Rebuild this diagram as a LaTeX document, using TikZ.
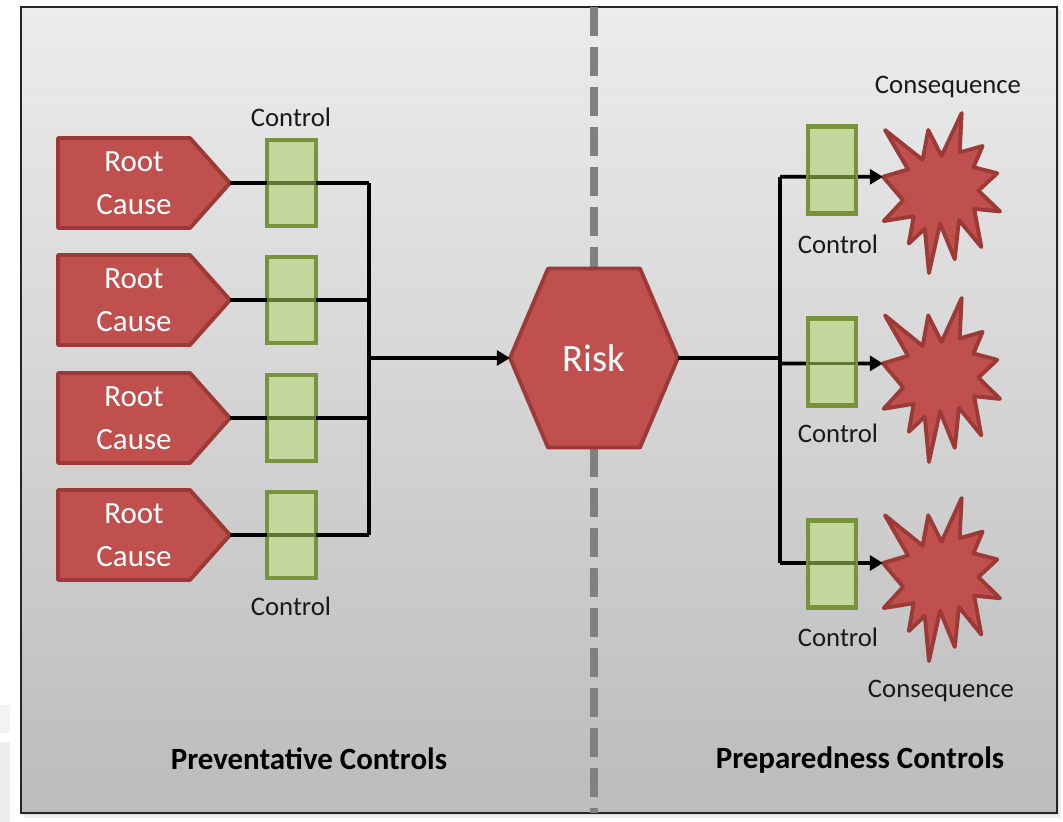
\documentclass[tikz,border=0pt]{standalone}
\usepackage{fontspec}
\setmainfont{Carlito}
\usetikzlibrary{arrows.meta,calc}
\definecolor{rcfill}{HTML}{C0504D}
\definecolor{rcline}{HTML}{9B3A37}
\definecolor{ctlfill}{HTML}{C3D69B}
\definecolor{ctlline}{HTML}{77933C}
\definecolor{divgray}{HTML}{808080}
\definecolor{bgtop}{HTML}{ECECEC}
\definecolor{bgbot}{HTML}{BCBCBC}
\definecolor{artA}{HTML}{F3F3F3}
\definecolor{artB}{HTML}{EEEEEE}
\newcommand\drawboom[4]{%
  \begin{scope}[shift={(#2,#3)}, xscale=0.5417, yscale=#4/216]
    \draw[explo] (108,58) -- (145.22,0) -- (141.55,53.25) -- (183.8,44.57) -- (167.02,73.15)
      -- (210.97,81.37) -- (176.07,104.75) -- (216,132.9) -- (168.37,129.42) -- (181.45,180.95)
      -- (140.2,144.57) -- (132.47,197.37) -- (105.32,149.35) -- (84.85,216) -- (77.15,156.27)
      -- (47.62,176.17) -- (56.67,139.37) -- (1.35,145.87) -- (37.22,117.75) -- (0,86.15)
      -- (46.27,76.17) -- (3.7,22.95) -- (73.12,63.2) -- (83.52,22.95) -- cycle;
    \coordinate (#1) at (0,86.15);
  \end{scope}}
\begin{document}
\begin{tikzpicture}[x=0.02cm,y=-0.02cm,
  conn/.style={line width=2.1pt, black},
  arr/.style={conn, -{Triangle[length=7.5pt,width=8.5pt]}},
  rcbox/.style={minimum width=3.44cm, minimum height=1.8cm, inner sep=0pt, outer sep=0pt},
  rcshape/.style={fill=rcfill, draw=rcline, line width=2.2pt, line join=round},
  rctext/.style={text=white, align=center, font=\fontsize{17.6}{24.5}\selectfont, inner sep=0pt},
  ctl/.style={fill=ctlfill, draw=ctlline, line width=2.7pt, minimum width=0.98cm, minimum height=1.72cm, inner sep=0pt, outer sep=0pt},
  ctlr/.style={ctl, minimum width=0.96cm, minimum height=1.74cm},
  divider/.style={draw=ctlline!80!black, line width=2.1pt},
  lbl/.style={font=\fontsize{15.2}{18}\selectfont, inner sep=0pt, text=black!90},
  riskbox/.style={minimum width=3.36cm, minimum height=3.58cm, inner sep=0pt, outer sep=0pt},
  riskshape/.style={fill=rcfill, draw=rcline, line width=2.2pt, line join=round},
  risktext/.style={text=white, font=\fontsize{22}{26}\selectfont, inner sep=0pt},
  titlelbl/.style={font=\bfseries\fontsize{17.6}{21}\selectfont, inner sep=0pt},
  explo/.style={fill=rcfill, draw=rcline, line width=2.2pt, line join=round},
  divline/.style={draw=divgray, line width=4.5pt, dash pattern=on 16.5pt off 6.3pt}
]
\useasboundingbox (0,0) rectangle (1063,822);
% page artefacts and frame
\fill[artA] (0,705) rectangle (10,733);
\fill[artB] (0,742) rectangle (10,822);
\fill[black, opacity=0.07] (24,10) rectangle (1061,818);
\fill[black, opacity=0.07] (22,8) rectangle (1059,815);
\shade[top color=bgtop, bottom color=bgbot] (21,7) rectangle (1057,813);
\draw[line width=1.4pt, black!85] (21,7) rectangle (1057,813);
\draw[divline] (594,7) -- (594,813);

% left side
\foreach \i/\y in {1/183,2/300,3/418,4/535} {
  \node[rcbox] (rc\i) at (144,\y) {};
  \draw[rcshape] (rc\i.north west) -- ([xshift=-0.8cm]rc\i.north east) -- (rc\i.east)
     -- ([xshift=-0.8cm]rc\i.south east) -- (rc\i.south west) -- cycle;
  \node[rctext] (rct\i) at (134,\y) {Root\\Cause};
  \coordinate (jl\i) at (369,\y);
  \node[ctl] (cl\i) at (291.5,\y) {};
  \draw[conn] (rc\i.east) -- (cl\i.west);
  \draw[conn] (cl\i.east) -- (jl\i);
  \draw[divider] (cl\i.west) -- (cl\i.east);
}
\draw[conn] (jl1) -- (jl4);
\coordinate (jm) at (369,358);

% risk
\node[riskbox] (risk) at (594,358) {};
\draw[riskshape] (risk.west) -- ([xshift=0.76cm]risk.north west) -- ([xshift=-0.76cm]risk.north east)
  -- (risk.east) -- ([xshift=-0.76cm]risk.south east) -- ([xshift=0.76cm]risk.south west) -- cycle;
\node[risktext] (riskt) at (594,358) {Risk};
\draw[arr] (jm) -- (risk.west);

% right side
\coordinate (jr) at (780,358);
\draw[conn] (risk.east) -- (jr);
\drawboom{cq1}{883}{113}{160}
\drawboom{cq2}{883}{298}{164}
\drawboom{cq3}{883}{498}{163}
\coordinate (jr1) at (780,176.8);
\coordinate (jr2) at (780,363.4);
\coordinate (jr3) at (780,563);
\draw[conn] (jr1) -- (jr3);
\foreach \i/\y in {1/170,2/362,3/564} {
  \draw[arr] (jr\i) -- (cq\i);
  \node[ctlr] (cr\i) at (832,\y) {};
  \draw[divider] (jr\i -| cr\i.west) -- (jr\i -| cr\i.east);
}

% labels
\node[lbl, anchor=base] (lc1) at (291,126) {Control};
\node[lbl, anchor=base] (lc2) at (291,615) {Control};
\node[lbl, anchor=base] (rl1) at (838,253) {Control};
\node[lbl, anchor=base] (rl2) at (838,442) {Control};
\node[lbl, anchor=base] (rl3) at (838,646) {Control};
\node[lbl, anchor=base] (cons1) at (948,93) {Consequence};
\node[lbl, anchor=base] (cons2) at (941,697) {Consequence};
\node[titlelbl, anchor=base] (prev) at (309,769) {Preventative Controls};
\node[titlelbl, anchor=base] (prep) at (860,768) {Preparedness Controls};
\end{tikzpicture}
\end{document}
